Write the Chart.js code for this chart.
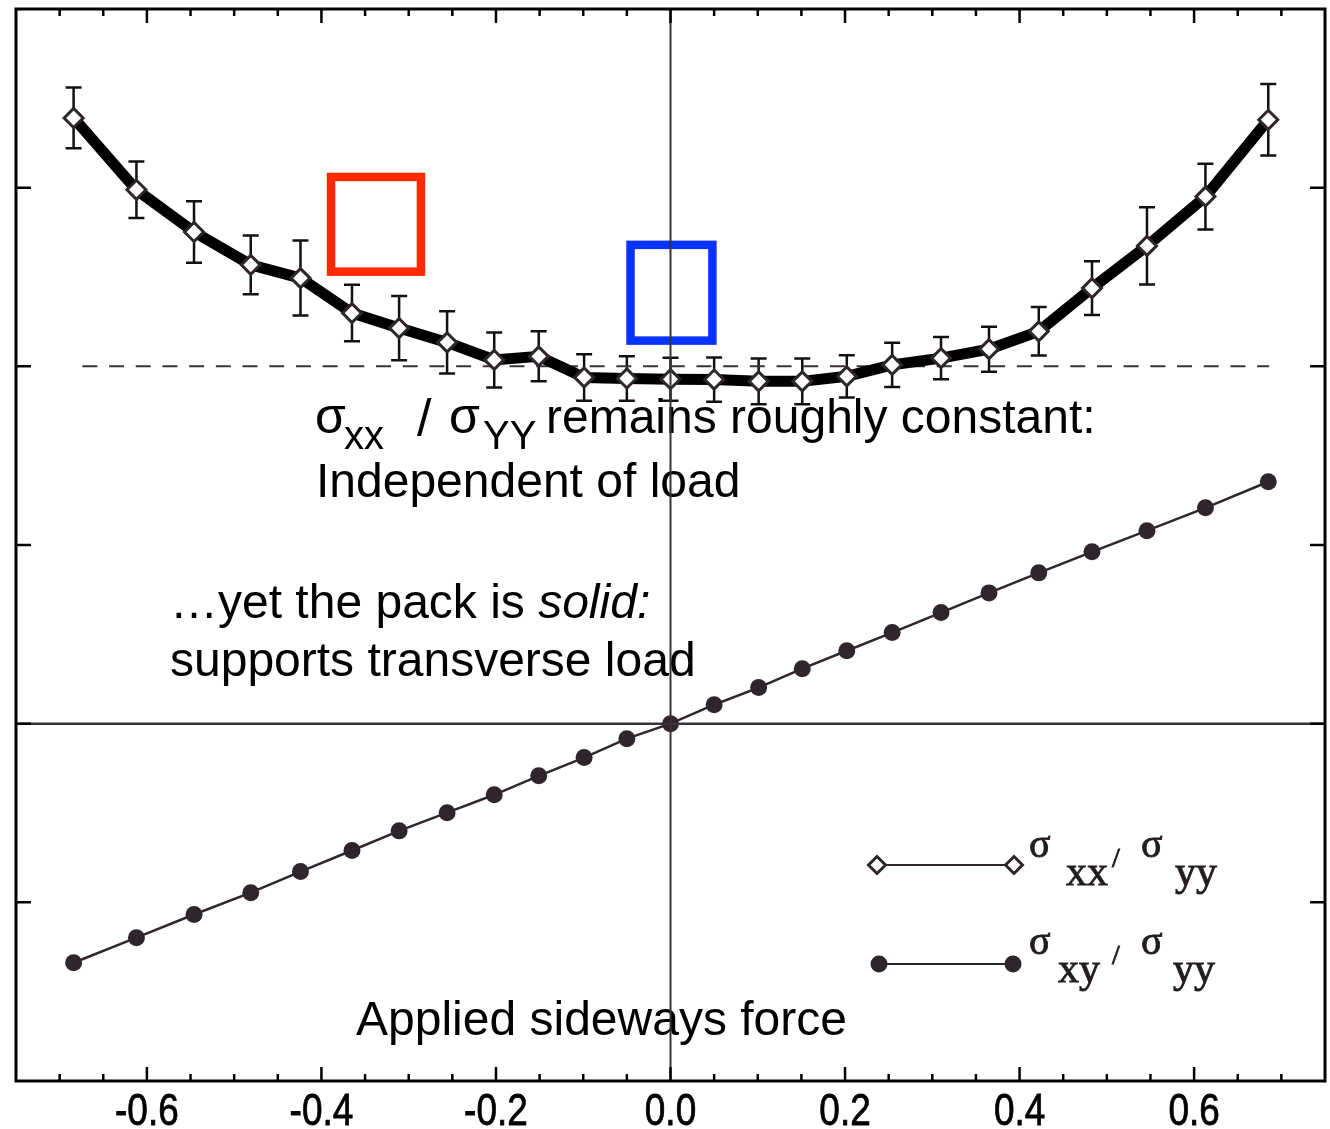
<!DOCTYPE html>
<html><head><meta charset="utf-8">
<script src="https://cdn.jsdelivr.net/npm/chart.js@4.4.1/dist/chart.umd.min.js"></script>
<style>html,body{margin:0;padding:0;background:#fff;overflow:hidden;width:1330px;height:1129px;} canvas{display:block;}</style>
</head><body>
<canvas id="c" width="1330" height="1129"></canvas>
<script>
// ---- data ----
const loadX = [-0.684, -0.612, -0.546, -0.481, -0.424, -0.365, -0.311, -0.256, -0.202, -0.151, -0.099, -0.050, 0.000,
               0.050, 0.101, 0.151, 0.202, 0.254, 0.310, 0.365, 0.422, 0.483, 0.546, 0.613, 0.685];
const sxxRatio = [1.695, 1.494, 1.376, 1.284, 1.247, 1.149, 1.107, 1.067, 1.018, 1.028, 0.969, 0.966, 0.964,
                  0.963, 0.958, 0.958, 0.972, 1.004, 1.023, 1.048, 1.098, 1.219, 1.337, 1.475, 1.690];
const sxxErr = [0.085, 0.079, 0.086, 0.082, 0.105, 0.079, 0.090, 0.087, 0.077, 0.070, 0.065, 0.062, 0.060,
                0.062, 0.064, 0.064, 0.059, 0.062, 0.059, 0.063, 0.068, 0.075, 0.108, 0.092, 0.100];
const sxyRatio = [-0.669, -0.599, -0.534, -0.473, -0.414, -0.355, -0.300, -0.249, -0.199, -0.146, -0.095, -0.042, 0.000,
                  0.053, 0.101, 0.154, 0.204, 0.255, 0.311, 0.366, 0.422, 0.481, 0.540, 0.604, 0.677];
const refLineX = [-0.674, 0.686];
const refLineY = [1, 1];
const xMajorTicks = [-0.6, -0.4, -0.2, 0.0, 0.2, 0.4, 0.6];
const xTickLabels = ['-0.6', '-0.4', '-0.2', '0.0', '0.2', '0.4', '0.6'];
const xMinorTicks = [-0.7, -0.65, -0.55, -0.5, -0.45, -0.35, -0.3, -0.25, -0.15, -0.1, -0.05,
                     0.05, 0.1, 0.15, 0.25, 0.3, 0.35, 0.45, 0.5, 0.55, 0.65, 0.7];
const yTicks = [-0.5, 0, 0.5, 1, 1.5];

const INK = '#2e262c';
const redBox = {x1: -0.389, x2: -0.286, y1: 1.530, y2: 1.265, color: '#ff2a00'};
const blueBox = {x1: -0.0458, x2: 0.048, y1: 1.340, y2: 1.072, color: '#0a32ff'};

const pts = (xs, ys) => xs.map((v, i) => ({x: v, y: ys[i]}));

const errorBars = {
  id: 'errorBars',
  beforeDatasetsDraw(chart) {
    const {ctx, scales: {x, y}} = chart;
    ctx.save();
    ctx.strokeStyle = '#111';
    ctx.lineWidth = 2.5;
    loadX.forEach((v, i) => {
      const px = x.getPixelForValue(v);
      const t = y.getPixelForValue(sxxRatio[i] + sxxErr[i]);
      const b = y.getPixelForValue(sxxRatio[i] - sxxErr[i]);
      ctx.beginPath();
      ctx.moveTo(px, t); ctx.lineTo(px, b);
      ctx.moveTo(px - 8, t); ctx.lineTo(px + 8, t);
      ctx.moveTo(px - 8, b); ctx.lineTo(px + 8, b);
      ctx.stroke();
    });
    ctx.restore();
  }
};

function diamond(ctx, cx, cy, r) {
  ctx.beginPath();
  ctx.moveTo(cx, cy - r); ctx.lineTo(cx + r, cy); ctx.lineTo(cx, cy + r); ctx.lineTo(cx - r, cy);
  ctx.closePath();
  ctx.fillStyle = '#fff'; ctx.fill();
  ctx.strokeStyle = INK; ctx.lineWidth = 3; ctx.stroke();
}

const decorations = {
  id: 'decorations',
  afterDatasetsDraw(chart) {
    const {ctx, chartArea: a, scales: {x, y}} = chart;
    ctx.save();
    // annotation boxes
    [redBox, blueBox].forEach(bx => {
      const x1 = x.getPixelForValue(bx.x1), x2 = x.getPixelForValue(bx.x2);
      const y1 = y.getPixelForValue(bx.y1), y2 = y.getPixelForValue(bx.y2);
      ctx.strokeStyle = bx.color; ctx.lineWidth = 8.5;
      ctx.strokeRect(x1, y1, x2 - x1, y2 - y1);
    });
    // annotation texts
    ctx.fillStyle = '#000';
    ctx.textBaseline = 'alphabetic';
    ctx.textAlign = 'left';
    const sans = '"Liberation Sans", Arial, sans-serif';
    ctx.font = '50px ' + sans;
    ctx.fillText('σ', 315, 433);
    ctx.font = '40px ' + sans;
    ctx.fillText('xx', 344, 449);
    ctx.font = '52px ' + sans;
    ctx.fillText('/', 417, 436);
    ctx.font = '50px ' + sans;
    ctx.fillText('σ', 449, 433);
    ctx.font = '40px ' + sans;
    ctx.fillText('YY', 483, 449);
    ctx.font = '48px ' + sans;
    ctx.fillText('remains roughly constant:', 546, 433);
    ctx.fillText('Independent of load', 316, 497);
    const w1 = ctx.measureText('…yet the pack is ').width;
    ctx.fillText('…yet the pack is ', 170, 618);
    ctx.font = 'italic 48px ' + sans;
    ctx.fillText('solid:', 170 + w1, 618);
    ctx.font = '48px ' + sans;
    ctx.fillText('supports transverse load', 170, 676);
    ctx.fillText('Applied sideways force', 356, 1035);

    // legend
    ctx.strokeStyle = INK; ctx.lineWidth = 2;
    ctx.beginPath(); ctx.moveTo(877, 865); ctx.lineTo(1014, 865); ctx.stroke();
    diamond(ctx, 877, 865, 8.5); diamond(ctx, 1014, 865, 8.5);
    ctx.beginPath(); ctx.moveTo(879, 964); ctx.lineTo(1013, 964);
    ctx.strokeStyle = INK; ctx.lineWidth = 2; ctx.stroke();
    ctx.fillStyle = INK;
    [879, 1013].forEach(cx => { ctx.beginPath(); ctx.arc(cx, 964, 8.5, 0, Math.PI * 2); ctx.fill(); });
    const serif = '"Liberation Serif", "Times New Roman", serif';
    ctx.fillStyle = '#231c21';
    ctx.strokeStyle = '#231c21';
    ctx.lineWidth = 0.9;
    const txt = (s, tx, ty) => { ctx.fillText(s, tx, ty); ctx.strokeText(s, tx, ty); };
    const leg = (sub1, sub1x, sub2x, base) => {
      ctx.font = '40px ' + serif;
      txt('σ', 1029, base - 28);
      txt('σ', 1141, base - 28);
      ctx.font = '42px ' + serif;
      txt(sub1, sub1x, base);
      txt('yy', sub2x, base);
      ctx.font = '28px ' + serif;
      txt('/', 1112, base - 18);
    };
    leg('xx', 1066, 1175, 885);
    leg('xy', 1058, 1173, 982);

    // zero lines
    ctx.strokeStyle = '#3a3238';
    ctx.lineWidth = 2;
    const x0 = x.getPixelForValue(0), y0 = y.getPixelForValue(0);
    ctx.beginPath(); ctx.moveTo(x0, a.top); ctx.lineTo(x0, a.bottom); ctx.stroke();
    ctx.lineWidth = 2.5;
    ctx.beginPath(); ctx.moveTo(a.left, y0); ctx.lineTo(a.right, y0); ctx.stroke();

    // frame and inward ticks
    ctx.strokeStyle = '#000';
    ctx.lineWidth = 3;
    ctx.strokeRect(a.left, a.top, a.right - a.left, a.bottom - a.top);
    ctx.lineWidth = 2.5;
    ctx.beginPath();
    xMajorTicks.forEach(v => {
      const px = x.getPixelForValue(v);
      ctx.moveTo(px, a.bottom); ctx.lineTo(px, a.bottom - 14);
      ctx.moveTo(px, a.top); ctx.lineTo(px, a.top + 14);
    });
    xMinorTicks.forEach(v => {
      const px = x.getPixelForValue(v);
      ctx.moveTo(px, a.bottom); ctx.lineTo(px, a.bottom - 7);
      ctx.moveTo(px, a.top); ctx.lineTo(px, a.top + 7);
    });
    yTicks.forEach(v => {
      const py = y.getPixelForValue(v);
      ctx.moveTo(a.left, py); ctx.lineTo(a.left + 15, py);
      ctx.moveTo(a.right, py); ctx.lineTo(a.right - 15, py);
    });
    ctx.stroke();

    // x tick labels (condensed)
    ctx.fillStyle = '#000';
    ctx.strokeStyle = '#000';
    ctx.lineWidth = 0.8;
    ctx.font = '44px ' + sans;
    ctx.textAlign = 'center';
    ctx.textBaseline = 'alphabetic';
    xMajorTicks.forEach((v, i) => {
      const px = x.getPixelForValue(v);
      ctx.save();
      ctx.translate(px, 1125);
      ctx.scale(0.84, 1);
      ctx.fillText(xTickLabels[i], 0, 0);
      ctx.strokeText(xTickLabels[i], 0, 0);
      ctx.restore();
    });
    ctx.restore();
  }
};

new Chart(document.getElementById('c'), {
  type: 'scatter',
  data: {
    datasets: [
      {
        label: 'σxx/σyy',
        data: pts(loadX, sxxRatio),
        showLine: true,
        borderColor: '#000',
        borderWidth: 11,
        pointStyle: 'rectRot',
        pointRadius: 9.5,
        pointBackgroundColor: '#fff',
        pointBorderColor: INK,
        pointBorderWidth: 3
      },
      {
        label: 'σxy/σyy',
        data: pts(loadX, sxyRatio),
        showLine: true,
        borderColor: INK,
        borderWidth: 2.5,
        pointStyle: 'circle',
        pointRadius: 8.5,
        pointBackgroundColor: INK,
        pointBorderColor: INK,
        pointBorderWidth: 0
      },
      {
        label: 'reference',
        data: pts(refLineX, refLineY),
        showLine: true,
        borderColor: '#3a3238',
        borderWidth: 2,
        borderDash: [15, 11.7],
        pointRadius: 0
      }
    ]
  },
  options: {
    responsive: false,
    animation: false,
    devicePixelRatio: 1,
    layout: {autoPadding: false, padding: {left: 16, right: 5, top: 9, bottom: 48}},
    plugins: {legend: {display: false}, tooltip: {enabled: false}},
    scales: {
      x: {type: 'linear', min: -0.75, max: 0.75, display: false},
      y: {type: 'linear', min: -1, max: 2, display: false}
    }
  },
  plugins: [errorBars, decorations]
});
</script>
</body></html>
